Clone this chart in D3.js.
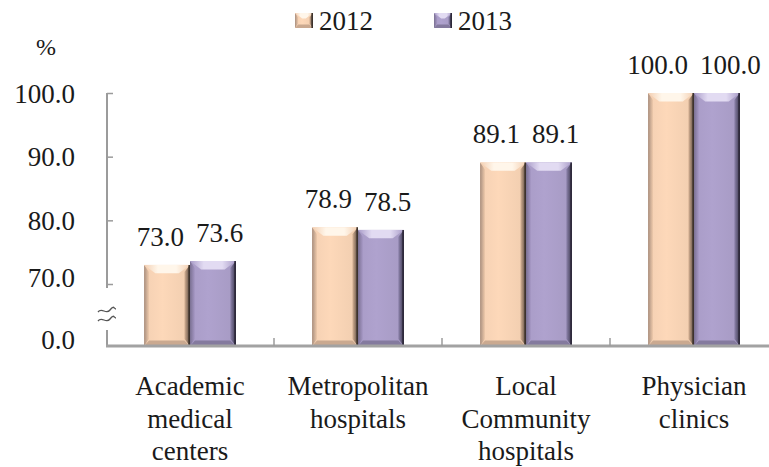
<!DOCTYPE html>
<html>
<head>
<meta charset="utf-8">
<script src="https://cdn.jsdelivr.net/npm/d3@7"></script>
</head>
<body style="margin:0;background:#fff">
<svg id="chart" width="769" height="467"></svg>
<script>
// Share of facilities (%) by type, 2012 vs 2013
const categories = [
  ["Academic", "medical", "centers"],
  ["Metropolitan", "hospitals"],
  ["Local", "Community", "hospitals"],
  ["Physician", "clinics"]
];
const seriesNames = ["2012", "2013"];
const values2012 = [73.0, 78.9, 89.1, 100.0];
const values2013 = [73.6, 78.5, 89.1, 100.0];
const yTicks = [0, 70, 80, 90, 100];

const svg = d3.select("#chart");
const W = 769;
const FONT = 27;
const textStyle = size => `font-family: 'Liberation Serif', serif !important; font-size: ${size}px; fill: #1a1a1a;`;
const serif = (sel, size = FONT) => sel.attr("style", textStyle(size));

// Times-metric advance widths: digits 0.5em, period 0.25em
const numWidth = str => FONT * Array.from(str).reduce((w, ch) => w + (ch === "." ? 0.25 : 0.5), 0);

const catKeys = categories.map(c => c.join(" "));
const data = catKeys.map((k, i) => ({
  key: k,
  lines: categories[i],
  vals: [
    { s: seriesNames[0], v: values2012[i] },
    { s: seriesNames[1], v: values2013[i] }
  ]
}));

// broken value axis: 0..70 compressed, 70..100 linear
const y = d3.scaleLinear().domain([0, 70, 100]).range([346, 284, 93]);
const x0 = d3.scaleBand().domain(catKeys).range([106, 778]).padding(0);
const x1 = d3.scaleBand().domain(seriesNames).range([0, x0.bandwidth()])
  .paddingInner(0).paddingOuter(0.83);

const styles = {
  "2012": { face: "#fdd8b9", top: "#fff6ea", topSide: "#f3cfb2", leftOut: "#a88e7e", leftIn: "#efcaab",
            rightIn: "#d9b496", rightOut: "#54453b", bottom: "#caa990", edge: "#3d322c" },
  "2013": { face: "#afa2ce", top: "#e2dbf2", topSide: "#a99cc8", leftOut: "#7a7092", leftIn: "#a698c5",
            rightIn: "#8f85ae", rightOut: "#3a364c", bottom: "#847a9e", edge: "#2c2838" }
};

const defs = svg.append("defs");
seriesNames.forEach(s => {
  const st = styles[s];
  const gl = defs.append("linearGradient").attr("id", "left" + s).attr("x1", 0).attr("x2", 1);
  gl.append("stop").attr("offset", 0).attr("stop-color", st.leftOut);
  gl.append("stop").attr("offset", 1).attr("stop-color", st.leftIn);
  const gr = defs.append("linearGradient").attr("id", "right" + s).attr("x1", 0).attr("x2", 1);
  gr.append("stop").attr("offset", 0).attr("stop-color", st.rightIn);
  gr.append("stop").attr("offset", 1).attr("stop-color", st.rightOut);
  const gt = defs.append("linearGradient").attr("id", "top" + s).attr("x1", 0).attr("x2", 1);
  gt.append("stop").attr("offset", 0).attr("stop-color", st.topSide);
  gt.append("stop").attr("offset", 0.3).attr("stop-color", st.top);
  gt.append("stop").attr("offset", 0.7).attr("stop-color", st.top);
  gt.append("stop").attr("offset", 1).attr("stop-color", st.topSide);
  const gf = defs.append("linearGradient").attr("id", "face" + s).attr("x1", 0).attr("x2", 1);
  gf.append("stop").attr("offset", 0).attr("stop-color", d3.color(st.face).darker(0.1));
  gf.append("stop").attr("offset", 0.4).attr("stop-color", st.face);
  gf.append("stop").attr("offset", 1).attr("stop-color", d3.color(st.face).darker(0.15));
});

// bevelled bar drawing
function bevelBar(g, bx, by, bw, bh, s) {
  const b = Math.min(7, bw / 4, bh / 3);
  const st = styles[s];
  const pts = a => a.map(p => p.join(",")).join(" ");
  g.append("rect").attr("x", bx).attr("y", by).attr("width", bw).attr("height", bh)
    .attr("fill", `url(#face${s})`);
  g.append("polygon").attr("points", pts([[bx, by], [bx + b * 0.7, by + b], [bx + b * 0.7, by + bh - b], [bx, by + bh]]))
    .attr("fill", `url(#left${s})`);
  g.append("polygon").attr("points", pts([[bx + bw, by], [bx + bw, by + bh], [bx + bw - b * 0.8, by + bh - b], [bx + bw - b * 0.8, by + b]]))
    .attr("fill", `url(#right${s})`);
  g.append("polygon").attr("points", pts([[bx, by], [bx + bw, by], [bx + bw - b * 1.6, by + b * 1.2], [bx + b * 1.6, by + b * 1.2]]))
    .attr("fill", `url(#top${s})`);
  g.append("polygon").attr("points", pts([[bx, by + bh], [bx + bw, by + bh], [bx + bw - b * 0.8, by + bh - b * 0.8], [bx + b * 0.7, by + bh - b * 0.8]]))
    .attr("fill", st.bottom);
  g.append("line").attr("x1", bx + bw - 0.8).attr("x2", bx + bw - 0.8).attr("y1", by).attr("y2", by + bh)
    .attr("stroke", st.edge).attr("stroke-width", 1.6);
}

const barsG = svg.append("g");
data.forEach(d => {
  d.vals.forEach(v => {
    const bx = x0(d.key) + x1(v.s);
    const by = y(v.v);
    bevelBar(barsG, bx, by, x1.bandwidth(), y(0) - by, v.s);
  });
});

// value labels, spread apart when neighbouring labels would overlap
const labelsG = svg.append("g");
data.forEach(d => {
  const items = d.vals.map(v => {
    const txt = v.v.toFixed(1);
    return { v, txt, cx: x0(d.key) + x1(v.s) + x1.bandwidth() / 2, w: numWidth(txt) };
  });
  const a = items[0], b = items[1];
  const need = (a.w + b.w) / 2 + 12;
  const have = b.cx - a.cx;
  if (have < need) {
    const push = (need - have) / 2;
    a.cx -= push; b.cx += push;
  }
  items.forEach(it => {
    labelsG.append("text").attr("text-anchor", "middle")
      .attr("x", it.cx).attr("y", y(it.v.v) - 19).text(it.txt).call(serif);
  });
});

// value axis
const axisColor = "#9b9b9b";
const yAxisX = 107;
const yAxis = d3.axisLeft(y).tickValues(yTicks).tickSizeInner(-6).tickSizeOuter(0)
  .tickPadding(32).tickFormat(d3.format(".1f"));
const yg = svg.append("g").attr("transform", `translate(${yAxisX},0)`).call(yAxis);
yg.attr("font-family", "Liberation Serif").attr("font-size", FONT);
yg.select(".domain").remove();
yg.selectAll(".tick line").attr("stroke", axisColor).attr("stroke-width", 1.5)
  .filter(d => d === 0).remove();
yg.selectAll(".tick text").call(serif)
  .attr("dy", d => (d === 0 || d === 70) ? "0.1em" : "0.34em");

svg.append("line").attr("x1", yAxisX).attr("x2", yAxisX)
  .attr("y1", y(100)).attr("y2", y(70) + 4).attr("stroke", axisColor).attr("stroke-width", 2);
svg.append("line").attr("x1", yAxisX).attr("x2", yAxisX)
  .attr("y1", y(0) - 16).attr("y2", y(0)).attr("stroke", axisColor).attr("stroke-width", 2);

// axis break marks
const breakY = (y(70) + y(0)) / 2;
[-4.5, 4.5].forEach(off => {
  const yy = breakY + off;
  svg.append("path")
    .attr("d", `M${yAxisX - 9},${yy + 1.5} C${yAxisX - 5},${yy - 4} ${yAxisX - 1},${yy + 5} ${yAxisX + 3},${yy - 0.5} S${yAxisX + 7},${yy - 1.5} ${yAxisX + 9},${yy - 1.5}`)
    .attr("fill", "none").attr("stroke", "#555").attr("stroke-width", 1.3);
});

svg.append("text").attr("x", 46).attr("y", 55).attr("text-anchor", "middle")
  .text("%").call(serif, FONT - 3);

// category axis
svg.append("line").attr("x1", yAxisX - 1).attr("x2", W).attr("y1", y(0)).attr("y2", y(0))
  .attr("stroke", "#a2a2a2").attr("stroke-width", 3);
catKeys.slice(1).forEach(k => {
  svg.append("line").attr("x1", x0(k)).attr("x2", x0(k)).attr("y1", y(0) - 8).attr("y2", y(0))
    .attr("stroke", axisColor).attr("stroke-width", 1.5);
});

const catG = svg.append("g");
data.forEach(d => {
  const cx = x0(d.key) + x0.bandwidth() / 2;
  const t = catG.append("text").attr("text-anchor", "middle")
    .attr("x", cx).attr("y", 395).call(serif);
  d.lines.forEach((ln, i) => {
    t.append("tspan").attr("x", cx).attr("dy", i === 0 ? 0 : 32.5).text(ln);
  });
});

// legend
const legendX = [295, 434];
const lg = svg.append("g");
seriesNames.forEach((s, i) => {
  const g = lg.append("g");
  bevelBar(g, legendX[i], 13, 18, 15, s);
  g.append("text").attr("x", legendX[i] + 24).attr("y", 30).text(s).call(serif);
});
</script>
</body>
</html>
